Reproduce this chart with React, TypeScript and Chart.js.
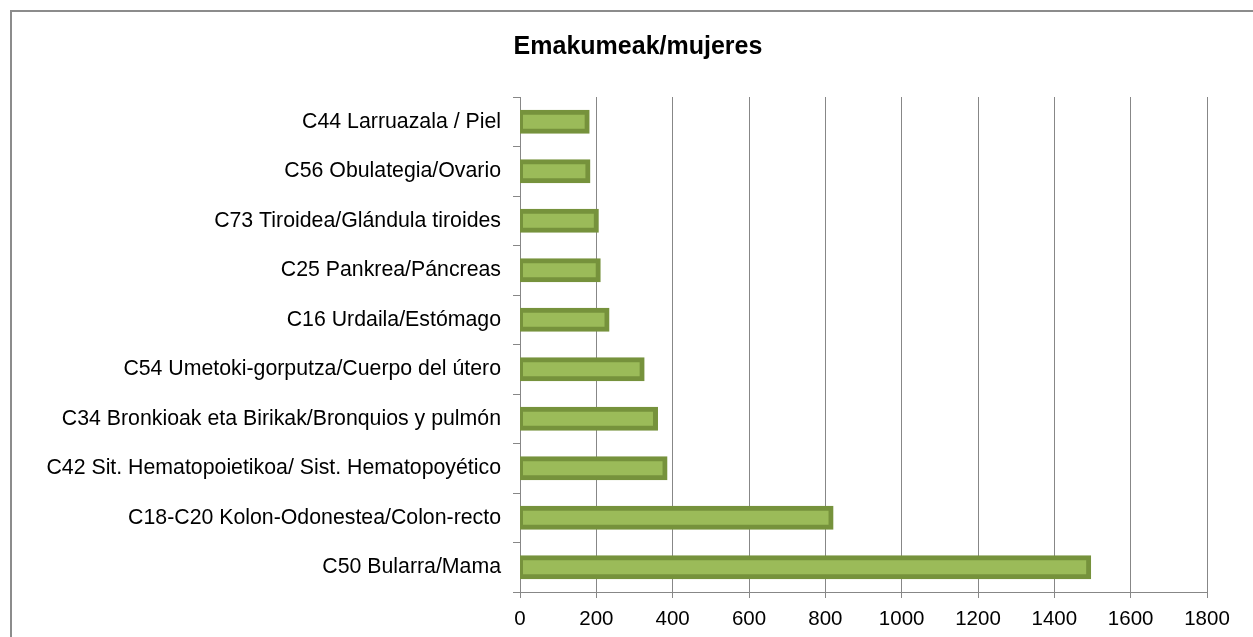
import React, { useEffect, useRef } from "react";
import { Chart, registerables } from "chart.js";

Chart.register(...registerables);

const chartTitle = "Emakumeak/mujeres";
const categories = [
  "C44 Larruazala / Piel",
  "C56 Obulategia/Ovario",
  "C73 Tiroidea/Glándula tiroides",
  "C25 Pankrea/Páncreas",
  "C16 Urdaila/Estómago",
  "C54 Umetoki-gorputza/Cuerpo del útero",
  "C34 Bronkioak eta Birikak/Bronquios y pulmón",
  "C42 Sit. Hematopoietikoa/ Sist. Hematopoyético",
  "C18-C20 Kolon-Odonestea/Colon-recto",
  "C50 Bularra/Mama",
];
const cases = [176, 178, 200, 205, 228, 320, 355, 380, 815, 1490];
const xTicks = [0, 200, 400, 600, 800, 1000, 1200, 1400, 1600, 1800];

const FONT = "'Liberation Sans', Arial, sans-serif";

export default function App() {
  const ref = useRef<HTMLCanvasElement | null>(null);
  useEffect(() => {
    if (!ref.current) return;
    const decor = {
      id: "decor",
      beforeDraw(chart: any) {
        const ctx = chart.ctx;
        ctx.save();
        ctx.fillStyle = "#ffffff";
        ctx.fillRect(0, 0, chart.width, chart.height);
        ctx.strokeStyle = "#8c8c8c";
        ctx.lineWidth = 2;
        ctx.strokeRect(11, 11, chart.width + 20, chart.height + 20);
        ctx.restore();
      },
      afterDraw(chart: any) {
        const ctx = chart.ctx;
        ctx.save();
        ctx.fillStyle = "#000000";
        ctx.font = "bold 25px " + FONT;
        ctx.textAlign = "center";
        ctx.textBaseline = "alphabetic";
        ctx.fillText(chartTitle, 638, 54);
        ctx.restore();
      },
    };
    const chart = new Chart(ref.current, {
      type: "bar",
      data: {
        labels: categories,
        datasets: [
          {
            data: cases,
            backgroundColor: "#9BBB59",
            borderColor: "#76923C",
            borderWidth: 5,
            borderSkipped: false,
            inflateAmount: 2.5,
            barThickness: 19,
          } as any,
        ],
      },
      options: {
        indexAxis: "y",
        animation: false,
        responsive: false,
        layout: { padding: { top: 97, right: 46, left: 0, bottom: 0 } },
        plugins: {
          legend: { display: false },
          title: { display: false },
          tooltip: { enabled: false },
        },
        scales: {
          x: {
            type: "linear",
            min: 0,
            max: 1800,
            afterBuildTicks(scale: any) {
              scale.ticks = xTicks.map((v) => ({ value: v }));
            },
            afterFit(scale: any) {
              scale.height = 45;
            },
            grid: {
              color: "#878787",
              lineWidth: 1,
              tickLength: 6,
              drawTicks: true,
            },
            border: { color: "#878787", width: 1 },
            ticks: {
              color: "#000000",
              font: { family: FONT, size: 20.5 },
              padding: 9,
              maxRotation: 0,
              callback: (v: any) => String(v),
            },
          },
          y: {
            type: "category",
            afterFit(scale: any) {
              scale.width = 520;
            },
            grid: {
              drawOnChartArea: false,
              drawTicks: true,
              tickLength: 7,
              color: "#878787",
              offset: true,
            },
            border: { color: "#878787", width: 1 },
            ticks: {
              color: "#000000",
              font: { family: FONT, size: 21.3 },
              padding: 12,
              autoSkip: false,
            },
          },
        },
      },
      plugins: [decor],
    });
    return () => chart.destroy();
  }, []);
  return (
    <div style={{ position: "fixed", left: 0, top: 0, width: 1253, height: 637, background: "#fff" }}>
      <canvas ref={ref} width={1253} height={637} style={{ display: "block" }} />
    </div>
  );
}
